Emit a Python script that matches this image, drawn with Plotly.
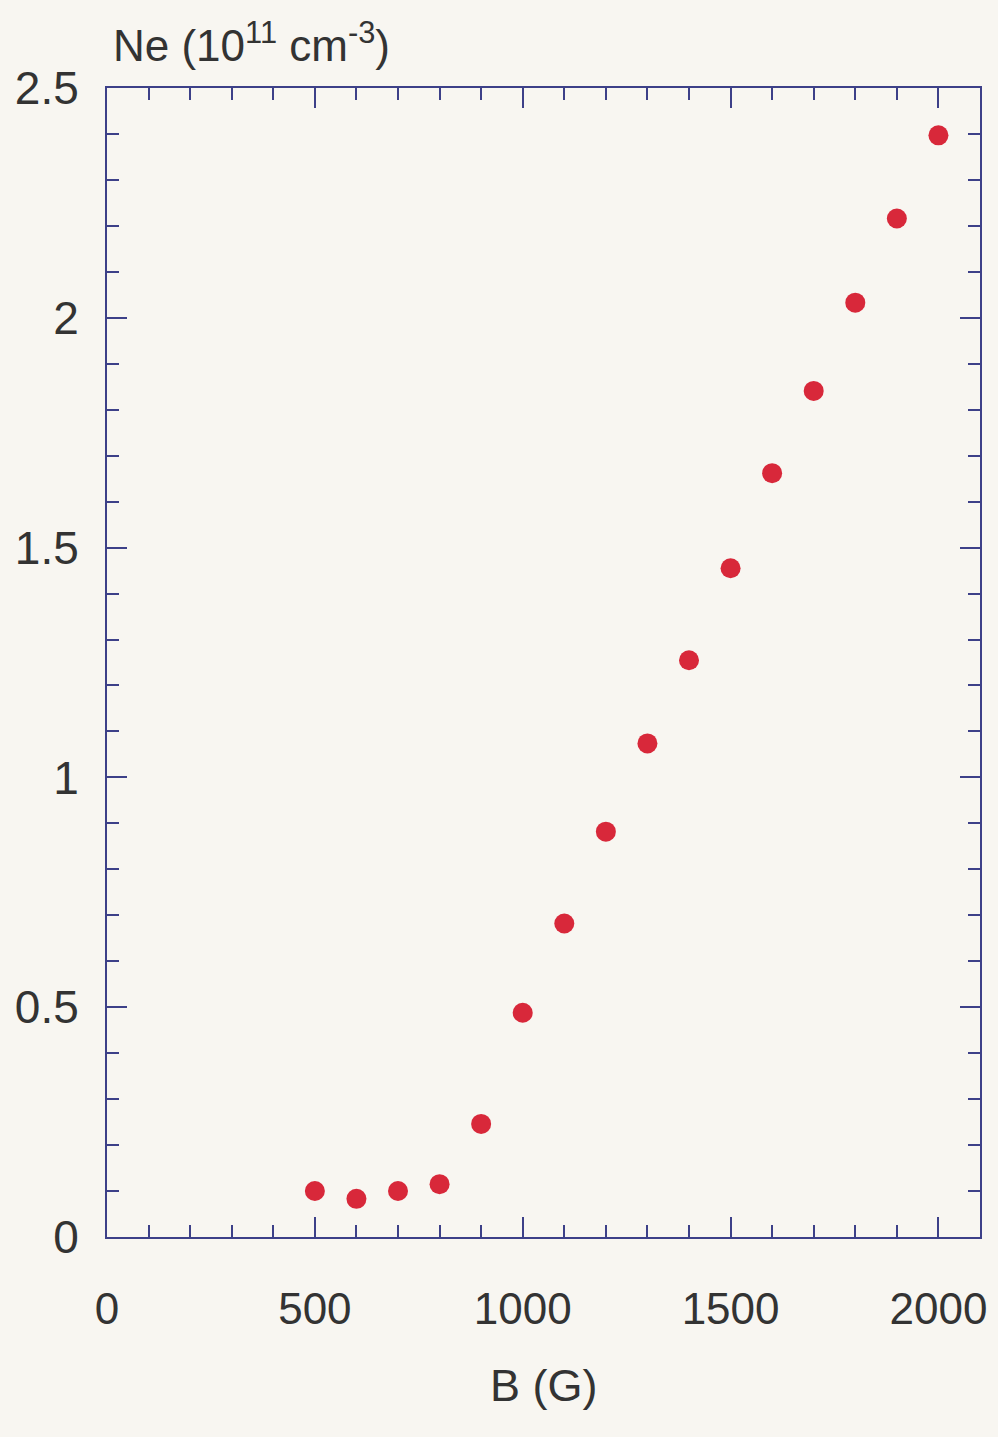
import plotly.graph_objects as go

B_G = [500, 600, 700, 800, 900, 1000, 1100, 1200, 1300, 1400, 1500, 1600, 1700, 1800, 1900, 2000]
Ne = [0.100, 0.083, 0.100, 0.115, 0.246, 0.488, 0.682, 0.882, 1.074, 1.255, 1.455, 1.662, 1.841, 2.033, 2.216, 2.397]

x_ticks = [0, 500, 1000, 1500, 2000]
y_ticks = [0, 0.5, 1, 1.5, 2, 2.5]
y_ticktext = ["0", "0.5", "1", "1.5", "2", "2.5"]

axis_col = "#3d4088"
text_col = "#333333"
font_fam = "Liberation Sans, Arial, sans-serif"

fig = go.Figure()
fig.add_trace(go.Scatter(
    x=B_G, y=Ne, mode="markers",
    marker=dict(color="#d8283a", size=20, line=dict(width=0)),
    showlegend=False,
))

common = dict(
    showline=True, linecolor=axis_col, linewidth=2, mirror="ticks",
    ticks="inside", tickcolor=axis_col, tickwidth=2, ticklen=20,
    showgrid=False, zeroline=False,
)

fig.update_xaxes(
    range=[0, 2100], tickvals=x_ticks, ticktext=[str(v) for v in x_ticks],
    minor=dict(dtick=100, ticks="inside", ticklen=12, tickwidth=2, tickcolor=axis_col, showgrid=False),
    ticklabelstandoff=32,
    tickfont=dict(family=font_fam, size=44, color=text_col),
    **common,
)
fig.update_yaxes(
    range=[0, 2.5], tickvals=y_ticks, ticktext=y_ticktext,
    minor=dict(dtick=0.1, ticks="inside", ticklen=12, tickwidth=2, tickcolor=axis_col, showgrid=False),
    ticklabelstandoff=17,
    tickfont=dict(family=font_fam, size=46, color=text_col),
    **common,
)

fig.add_annotation(
    text="Ne (10<sup>11</sup> cm<sup>-3</sup>)", xref="paper", yref="paper",
    x=0, y=1, xanchor="left", yanchor="middle", xshift=4, yshift=46,
    showarrow=False, font=dict(family=font_fam, size=44, color=text_col),
)
fig.add_annotation(
    text="B (G)", xref="paper", yref="paper",
    x=0.5, y=0, xanchor="center", yanchor="middle", yshift=-148,
    showarrow=False, font=dict(family=font_fam, size=45, color=text_col),
)

fig.update_layout(
    width=998, height=1437,
    margin=dict(l=107, r=18, t=88, b=200),
    paper_bgcolor="#f8f6f1", plot_bgcolor="#f8f6f1",
)

fig.write_html("out.html")
